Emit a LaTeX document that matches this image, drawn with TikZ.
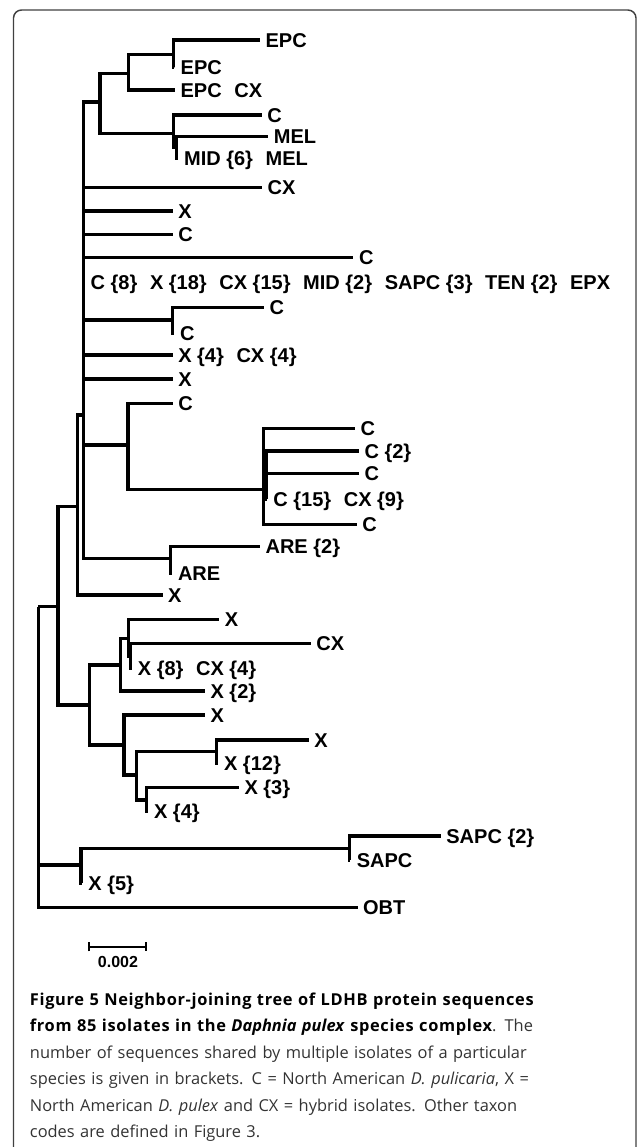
\documentclass[tikz,border=0pt]{standalone}
\usepackage{fontspec}
\usepackage{xcolor}
\usetikzlibrary{arrows.meta}
\newfontfamily\treefont{Liberation Sans}
\newfontfamily\capfont[BoldFeatures={LetterSpace=4}]{Open Sans}
\newcommand{\leaffont}{\treefont\bfseries\fontsize{15pt}{17pt}\selectfont}
\newcommand{\gap}{\hspace{9.5pt}}

\begin{document}
\begin{tikzpicture}[x=0.75pt, y=-0.75pt,
      br/.style={line width=2.4pt},
      lbl/.style={anchor=west, inner xsep=4pt, inner ysep=0pt,
                  text height=10.7pt, text depth=0pt, font=\leaffont},
      zl/.style={lbl, inner xsep=4.6pt},
      frame/.style={draw=black!75, line width=1.1pt, rounded corners=6pt},
      sbar/.style={line width=1.6pt, {Bar[width=7pt]}-{Bar[width=7pt]}}
    ]
  \useasboundingbox (0,0) rectangle (637,1147);
  \draw[frame] (13.5,1147) -- (13.5,10) -- (636,10) -- (636,1147);

  % inner nodes of the tree
  \coordinate (root) at (38.3,606.7);
  \coordinate (r3) at (58,606.7);
  \coordinate (r2) at (77.2,506.7);
  \coordinate (r1) at (83.3,415);
  \coordinate (a) at (100,102);
  \coordinate (b) at (128.3,73.3);
  \coordinate (d) at (173.3,54.3);
  \coordinate (e) at (173.3,133.3);
  \coordinate (f) at (176.7,147);
  \coordinate (g) at (172.7,320);
  \coordinate (h) at (128,445);
  \coordinate (i) at (263.3,489.3);
  \coordinate (j) at (266,475);
  \coordinate (k) at (170.6,558.3);
  \coordinate (l) at (89.3,705);
  \coordinate (m) at (120.3,665);
  \coordinate (n) at (128.3,638.3);
  \coordinate (n2) at (130.5,656);
  \coordinate (p) at (124,745);
  \coordinate (q) at (136.7,775);
  \coordinate (s) at (216.7,751.7);
  \coordinate (t) at (146.7,800);
  \coordinate (u) at (81,865);
  \coordinate (v) at (349.4,848.3);

  % leaves
  \node[lbl] (epcA) at (260,40) {EPC};
  \node[zl] (epcB) at (174.3,67.7) {EPC};
  \node[lbl] (epccx) at (175,90) {EPC\gap CX};
  \node[lbl] (cA) at (261.7,115) {C};
  \node[lbl] (melA) at (268.3,136.7) {MEL};
  \node[zl] (midmel) at (177.7,158) {MID \{6\}\gap MEL};
  \node[lbl] (cxA) at (262,187.7) {CX};
  \node[lbl] (xA) at (172.7,211) {X};
  \node[lbl] (cB) at (172.7,234.3) {C};
  \node[lbl] (cC) at (353.4,257.7) {C};
  \node[zl] (pool) at (84.3,282.7) {C \{8\}\gap X \{18\}\gap CX \{15\}\gap MID \{2\}\gap SAPC \{3\}\gap TEN \{2\}\gap EPX};
  \node[lbl] (cD) at (264,307.7) {C};
  \node[zl] (cE) at (173.7,333.3) {C};
  \node[lbl] (xcx) at (172.7,355) {X \{4\}\gap CX \{4\}};
  \node[lbl] (xB) at (172.7,379) {X};
  \node[lbl] (cF) at (172.7,403.3) {C};
  \node[lbl] (cG) at (355,428.3) {C};
  \node[lbl] (cH) at (359,451) {C \{2\}};
  \node[lbl] (cI) at (359,473.3) {C};
  \node[zl] (ccx) at (267,499) {C \{15\}\gap CX \{9\}};
  \node[lbl] (cJ) at (356.7,524.3) {C};
  \node[lbl] (are2) at (260,546.7) {ARE \{2\}};
  \node[zl] (areA) at (171.6,573.3) {ARE};
  \node[lbl] (xC) at (162.5,595) {X};
  \node[lbl] (xD) at (219.3,619.3) {X};
  \node[lbl] (cxB) at (310.8,643.3) {CX};
  \node[zl] (xcx2) at (131.5,668.3) {X \{8\}\gap CX \{4\}};
  \node[lbl] (x2) at (205,691) {X \{2\}};
  \node[lbl] (xE) at (205,715) {X};
  \node[lbl] (xF) at (308.8,740) {X};
  \node[zl] (x12) at (217.7,763) {X \{12\}};
  \node[lbl] (x3) at (238.9,787.7) {X \{3\}};
  \node[zl] (x4) at (147.7,811) {X \{4\}};
  \node[lbl] (sapc2) at (440.8,836) {SAPC \{2\}};
  \node[zl] (sapc) at (350.4,860) {SAPC};
  \node[zl] (x5) at (82,883) {X \{5\}};
  \node[lbl] (obt) at (357.5,907.3) {OBT};

  % branches
  \draw[br] (root) |- (r3) (root) |- (u) (root) |- (obt);
  \draw[br] (r3) |- (r2) (r3) |- (l);
  \draw[br] (r2) |- (r1) (r2) |- (xC);
  \draw[br] (r1) |- (a) (r1) |- (cxA) (r1) |- (xA) (r1) |- (cB) (r1) |- (cC)
            (r1) |- (pool) (r1) |- (g) (r1) |- (xcx) (r1) |- (xB) (r1) |- (h)
            (r1) |- (k);
  \draw[br] (a) |- (b) (a) |- (e);
  \draw[br] (b) |- (d) (b) |- (epccx);
  \draw[br] (d) |- (epcA) (d) |- (epcB);
  \draw[br] (e) |- (cA) (e) |- (f);
  \draw[br] (f) |- (melA) (f) |- (midmel);
  \draw[br] (g) |- (cD) (g) |- (cE);
  \draw[br] (h) |- (cF) (h) |- (i);
  \draw[br] (i) |- (cG) (i) |- (j) (i) |- (cJ);
  \draw[br] (j) |- (cH) (j) |- (cI) (j) |- (ccx);
  \draw[br] (k) |- (are2) (k) |- (areA);
  \draw[br] (l) |- (m) (l) |- (p);
  \draw[br] (m) |- (n) (m) |- (x2);
  \draw[br] (n) |- (xD) (n) |- (n2);
  \draw[br] (n2) |- (cxB) (n2) |- (xcx2);
  \draw[br] (p) |- (xE) (p) |- (q);
  \draw[br] (q) |- (s) (q) |- (t);
  \draw[br] (s) |- (xF) (s) |- (x12);
  \draw[br] (t) |- (x3) (t) |- (x4);
  \draw[br] (u) |- (v) (u) |- (x5);
  \draw[br] (v) |- (sapc2) (v) |- (sapc);

  % scale bar
  \coordinate (sbL) at (88.3,946.7);
  \coordinate (sbR) at (147.3,946.7);
  \draw[sbar] (sbL) -- (sbR);
  \node[inner sep=0pt, text height=9pt, text depth=0pt,
        font=\treefont\bfseries\fontsize{12pt}{14pt}\selectfont] (sblab) at (118,961.7) {0.002};

  % caption
  \node[anchor=base west, inner sep=0pt, text width=442.5pt, align=left,
        font=\capfont\fontsize{12.3pt}{19.9pt}\selectfont, text=black!80] (cap) at (29.7,1005)
    {\makebox[442.5pt][s]{\color{black}\bfseries Figure 5 Neighbor-joining tree of LDHB protein sequences}\\
     {\color{black}\bfseries from 85 isolates in the \textit{Daphnia pulex} species complex}. The\\
     number of sequences shared by multiple isolates of a particular\\
     species is given in brackets. C = North American \textit{D. pulicaria}, X =\\
     North American \textit{D. pulex} and CX = hybrid isolates. Other taxon\\
     codes are defined in Figure 3.};
\end{tikzpicture}
\end{document}
